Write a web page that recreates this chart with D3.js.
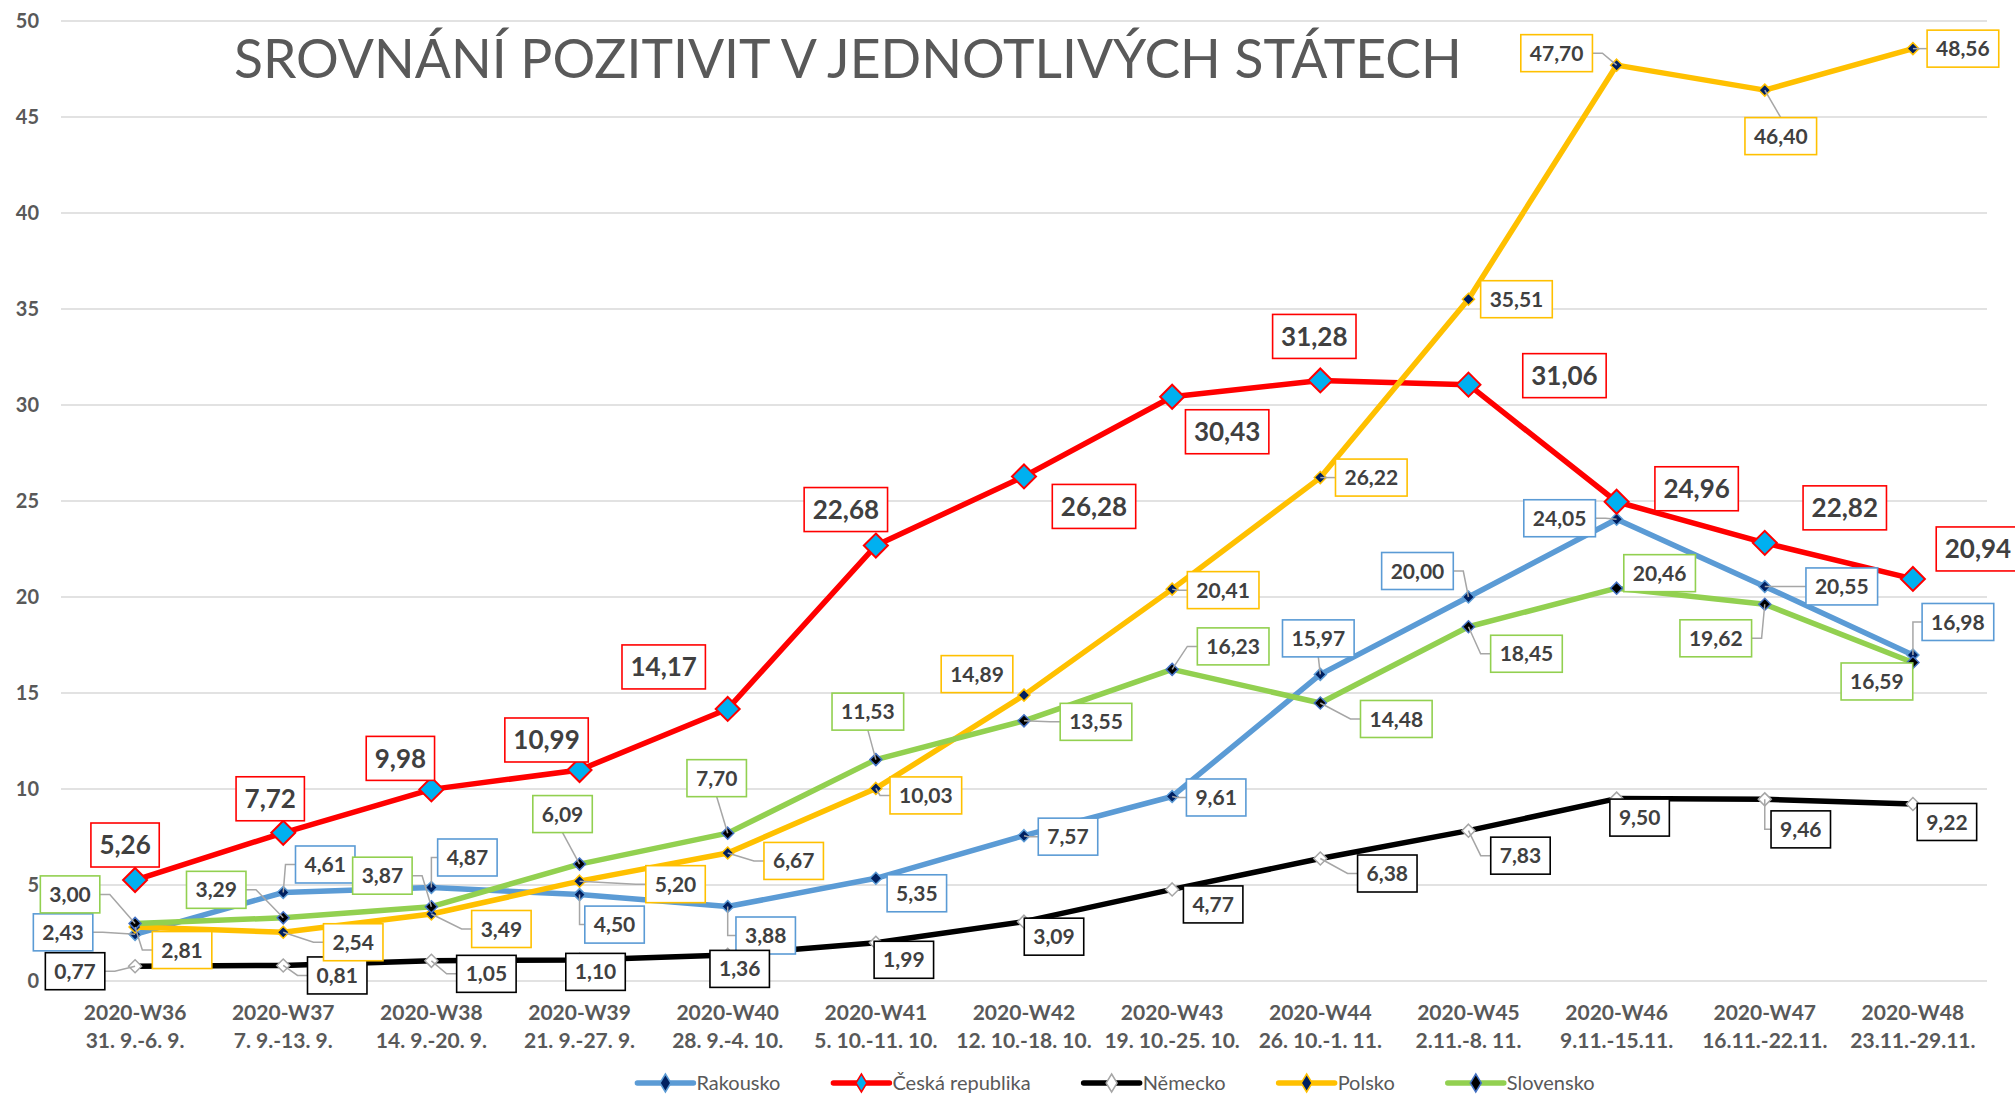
<!DOCTYPE html>
<html>
<head>
<meta charset="utf-8">
<script src="https://cdn.jsdelivr.net/npm/d3@7"></script>
<style>
  html, body { margin: 0; padding: 0; background: #ffffff; }
  svg { display: block; font-family: Lato, "Open Sans", "Noto Sans", sans-serif; }
</style>
</head>
<body>
<svg id="chart" width="2015" height="1098"></svg>
<script>
// ---- data ----
const chartTitle = "SROVNÁNÍ POZITIVIT V JEDNOTLIVÝCH STÁTECH";
const weeks = ["2020-W36", "2020-W37", "2020-W38", "2020-W39", "2020-W40", "2020-W41", "2020-W42",
               "2020-W43", "2020-W44", "2020-W45", "2020-W46", "2020-W47", "2020-W48"];
const weekRanges = ["31. 9.-6. 9.", "7. 9.-13. 9.", "14. 9.-20. 9.", "21. 9.-27. 9.", "28. 9.-4. 10.",
                    "5. 10.-11. 10.", "12. 10.-18. 10.", "19. 10.-25. 10.", "26. 10.-1. 11.",
                    "2.11.-8. 11.", "9.11.-15.11.", "16.11.-22.11.", "23.11.-29.11."];
const yTicks = [0, 5, 10, 15, 20, 25, 30, 35, 40, 45, 50];

const seriesNames = ["Rakousko", "Česká republika", "Německo", "Polsko", "Slovensko"];
const rakousko  = [2.43, 4.61, 4.87, 4.50, 3.88, 5.35, 7.57, 9.61, 15.97, 20.00, 24.05, 20.55, 16.98];
const ceskaRep  = [5.26, 7.72, 9.98, 10.99, 14.17, 22.68, 26.28, 30.43, 31.28, 31.06, 24.96, 22.82, 20.94];
const nemecko   = [0.77, 0.81, 1.05, 1.10, 1.36, 1.99, 3.09, 4.77, 6.38, 7.83, 9.50, 9.46, 9.22];
const polsko    = [2.81, 2.54, 3.49, 5.20, 6.67, 10.03, 14.89, 20.41, 26.22, 35.51, 47.70, 46.40, 48.56];
const slovensko = [3.00, 3.29, 3.87, 6.09, 7.70, 11.53, 13.55, 16.23, 14.48, 18.45, 20.46, 19.62, 16.59];
const seriesValues = [rakousko, ceskaRep, nemecko, polsko, slovensko];

// ---- label placement (offset of each value box from its point, px) ----
const labelOffsets = [
  [[-72,-2],[42,-28],[36,-30],[35,30],[38,29],[41,15],[44,1],[44,1],[-2,-36],[-51,-26],[-57,-1],[77,0],[45,-33]],
  [[-10,-35],[-13,-34],[-31,-31],[-33,-30],[-64,-42],[-30,-36],[70,30],[55,35],[-6,-44],[96,-9],[80,-13],[80,-35],[65,-30]],
  [[-60,5],[54,10],[55,13],[16,12],[12,14],[28,17],[30,15],[41,15],[67,15],[52,25],[23,19],[36,30],[34,18]],
  [[47,23],[70,10],[70,15],[96,3],[66,8],[50,7],[-47,-21],[51,1],[51,0],[48,0],[-60,-12],[16,46],[50,0]],
  [[-65,-29],[-67,-28],[-49,-31],[-17,-50],[-11,-55],[-8,-48],[72,1],[61,-23],[76,16],[58,27],[43,-15],[-49,34],[-36,19]]
];

// ---- styles ----
const seriesStyle = [
  { line: "#5B9BD5", mFill: "#002060", mStroke: "#5B9BD5", mSize: 12, box: "#5B9BD5", big: false },
  { line: "#FF0000", mFill: "#00B0F0", mStroke: "#FF0000", mSize: 24, box: "#FF0000", big: true },
  { line: "#000000", mFill: "#FFFFFF", mStroke: "#A6A6A6", mSize: 13, box: "#000000", big: false },
  { line: "#FFC000", mFill: "#002060", mStroke: "#FFC000", mSize: 12, box: "#FFC000", big: false },
  { line: "#92D050", mFill: "#000000", mStroke: "#4472C4", mSize: 12, box: "#92D050", big: false }
];

const svg = d3.select("#chart");
const plot = { left: 61, right: 1987, top: 21, bottom: 981 };

const x = d3.scaleBand().domain(weeks).range([plot.left, plot.right]).paddingInner(0).paddingOuter(0);
const xc = d => x(d) + x.bandwidth() / 2;
const y = d3.scaleLinear().domain([0, 50]).range([plot.bottom, plot.top]);

const textGrey = "#595959";
const fmt = v => d3.format(".2f")(v).replace(".", ",");

// gridlines
svg.append("g").selectAll("line").data(yTicks).join("line")
  .attr("x1", plot.left).attr("x2", plot.right)
  .attr("y1", d => y(d)).attr("y2", d => y(d))
  .attr("stroke", "#D9D9D9").attr("stroke-width", 1.5);

// y axis labels
const yAxis = d3.axisLeft(y).tickValues(yTicks).tickSize(0).tickPadding(0).tickFormat(d3.format("d"));
const gy = svg.append("g").attr("transform", "translate(39,0)").call(yAxis);
gy.select(".domain").remove();
gy.selectAll("text").attr("font-family", "Lato, sans-serif").attr("font-size", 20)
  .attr("font-weight", 700).attr("fill", textGrey);

// x axis labels (two lines)
const gx = svg.append("g");
weeks.forEach((w, i) => {
  const t = gx.append("text").attr("x", xc(w)).attr("text-anchor", "middle")
    .attr("font-size", 21).attr("font-weight", 700).attr("fill", textGrey);
  t.append("tspan").attr("x", xc(w)).attr("y", 1020).text(w);
  t.append("tspan").attr("x", xc(w)).attr("y", 1048).text(weekRanges[i]);
});

// title, fitted to its width
const titleText = svg.append("text").attr("x", 234).attr("y", 78)
  .attr("font-size", 57).attr("font-weight", 400).attr("fill", textGrey).text(chartTitle);
const tw = titleText.node().getComputedTextLength();
titleText.attr("font-size", 57 * 1228 / tw);

const diamond = s => `M0,${-s/2}L${s/2},0L0,${s/2}L${-s/2},0Z`;

// series lines and markers
const lineGen = d3.line().x((d, i) => xc(weeks[i])).y(d => y(d)).curve(d3.curveLinear);
const seriesLayer = svg.append("g");
seriesValues.forEach((vals, s) => {
  const st = seriesStyle[s];
  const g = seriesLayer.append("g");
  g.append("path").datum(vals).attr("d", lineGen)
    .attr("fill", "none").attr("stroke", st.line).attr("stroke-width", 5.5)
    .attr("stroke-linejoin", "round").attr("stroke-linecap", "round");
  g.selectAll("path.m").data(vals).join("path").attr("class", "m")
    .attr("transform", (d, i) => `translate(${xc(weeks[i])},${y(d)})`)
    .attr("d", diamond(st.mSize))
    .attr("fill", st.mFill).attr("stroke", st.mStroke).attr("stroke-width", st.big ? 2 : 1.5);
});

// value labels with leader lines
const leaderLayer = svg.append("g");
const labelLayer = svg.append("g");
seriesValues.forEach((vals, s) => {
  const st = seriesStyle[s];
  const fs = st.big ? 26 : 21;
  const pad = st.big ? 8.5 : 9;
  const h = st.big ? 44 : 37;
  vals.forEach((v, i) => {
    const px = xc(weeks[i]), py = y(v);
    const off = labelOffsets[s][i];
    const cx = px + off[0], cy = py + off[1];
    const g = labelLayer.append("g");
    const rect = g.append("rect");
    const t = g.append("text").attr("x", cx).attr("y", cy).attr("dy", "0.36em")
      .attr("text-anchor", "middle").attr("font-size", fs).attr("font-weight", 700)
      .attr("fill", "#404040").text(fmt(v));
    const w = t.node().getComputedTextLength() + pad * 2;
    const L = cx - w / 2, R = cx + w / 2, T = cy - h / 2, B = cy + h / 2;
    rect.attr("x", L).attr("y", T).attr("width", w).attr("height", h)
      .attr("fill", "#FFFFFF").attr("stroke", st.box).attr("stroke-width", 1.6);

    if (st.big) return;
    const dx = px < L ? L - px : (px > R ? px - R : 0);
    const dy = py < T ? T - py : (py > B ? py - B : 0);
    if (Math.hypot(dx, dy) <= 12.5) return;
    let pts;
    if (px < L - 4 || px > R + 4) {
      const ex = px < L ? L : R;
      const sx = px < L ? Math.max(px, L - 10) : Math.min(px, R + 10);
      pts = [[ex, cy], [sx, cy], [px, py]];
    } else {
      pts = [[cx, py < T ? T : B], [px, py]];
    }
    leaderLayer.append("polyline").attr("points", pts.map(p => p.join(",")).join(" "))
      .attr("fill", "none").attr("stroke", "#A6A6A6").attr("stroke-width", 1.5);
  });
});

// legend
const legend = svg.append("g");
let lx = 0;
seriesNames.forEach((name, s) => {
  const st = seriesStyle[s];
  const g = legend.append("g").attr("transform", `translate(${lx},0)`);
  g.append("line").attr("x1", 0).attr("x2", 56).attr("y1", 0).attr("y2", 0)
    .attr("stroke", st.line).attr("stroke-width", 5.5).attr("stroke-linecap", "round");
  g.append("path").attr("transform", "translate(28,0)")
    .attr("d", `M0,-9L5.5,0L0,9L-5.5,0Z`)
    .attr("fill", st.mFill).attr("stroke", st.mStroke).attr("stroke-width", 1.5);
  const t = g.append("text").attr("x", 59).attr("y", 0).attr("dy", "0.34em")
    .attr("font-size", 20).attr("fill", textGrey).text(name);
  lx += 59 + t.node().getComputedTextLength() + 53;
});
const legendWidth = lx - 53;
legend.attr("transform", `translate(${1116 - legendWidth / 2},1083)`);
</script>
</body>
</html>
